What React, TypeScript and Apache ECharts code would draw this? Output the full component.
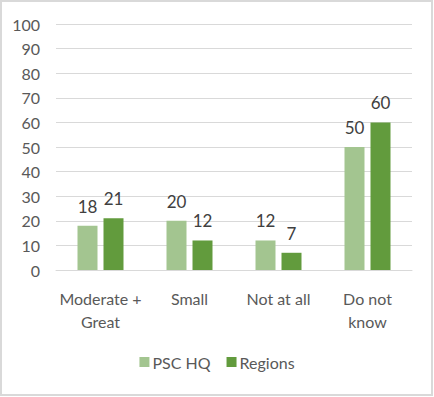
import React, { useEffect, useRef } from "react";
import * as echarts from "echarts";

const categories = ["Moderate +\nGreat", "Small", "Not at all", "Do not\nknow"];
const pscHQ = [18, 20, 12, 50];
const regions = [21, 12, 7, 60];
const seriesNames = ["PSC HQ", "Regions"];

export default function App() {
  const ref = useRef<HTMLDivElement>(null);
  useEffect(() => {
    const chart = echarts.init(ref.current!, null, { renderer: "svg" });
    const font = "Lato, 'Open Sans', sans-serif";
    const labelStyle = {
      show: true,
      position: "top" as const,
      color: "#404040",
      fontSize: 17,
      fontFamily: font,
      distance: 11,
    };
    chart.setOption({
      animation: false,
      backgroundColor: "#ffffff",
      textStyle: { fontFamily: font },
      graphic: [
        {
          type: "rect",
          shape: { x: 1, y: 1, width: 431, height: 394 },
          style: { fill: "none", stroke: "#d9d9d9", lineWidth: 2 },
          silent: true,
        },
      ],
      grid: { left: 56, right: 22, top: 24, bottom: 127 },
      legend: {
        data: seriesNames,
        bottom: 22,
        left: "center",
        itemWidth: 10,
        itemHeight: 10,
        itemGap: 16,
        icon: "rect",
        textStyle: { color: "#595959", fontSize: 16, fontFamily: font, padding: [0, 0, 0, -2] },
      },
      xAxis: {
        type: "category",
        data: categories,
        axisLine: { lineStyle: { color: "#d9d9d9", width: 1 } },
        axisTick: { show: false },
        axisLabel: {
          color: "#595959",
          fontSize: 16,
          fontFamily: font,
          margin: 17,
          lineHeight: 23,
          interval: 0,
        },
      },
      yAxis: {
        type: "value",
        min: 0,
        max: 100,
        interval: 10,
        axisLine: { show: false },
        axisTick: { show: false },
        splitLine: { lineStyle: { color: "#d9d9d9", width: 1 } },
        axisLabel: { color: "#595959", fontSize: 16, fontFamily: font, margin: 16 },
      },
      series: [
        {
          name: seriesNames[0],
          type: "bar",
          data: pscHQ,
          barWidth: 20,
          barGap: "30%",
          itemStyle: { color: "#a3c590" },
          label: labelStyle,
        },
        {
          name: seriesNames[1],
          type: "bar",
          data: regions,
          barWidth: 20,
          itemStyle: { color: "#629b3d" },
          label: labelStyle,
        },
      ],
    });
    return () => chart.dispose();
  }, []);
  return (
    <div
      ref={ref}
      style={{ position: "fixed", left: 0, top: 0, width: 434, height: 397 }}
    />
  );
}
